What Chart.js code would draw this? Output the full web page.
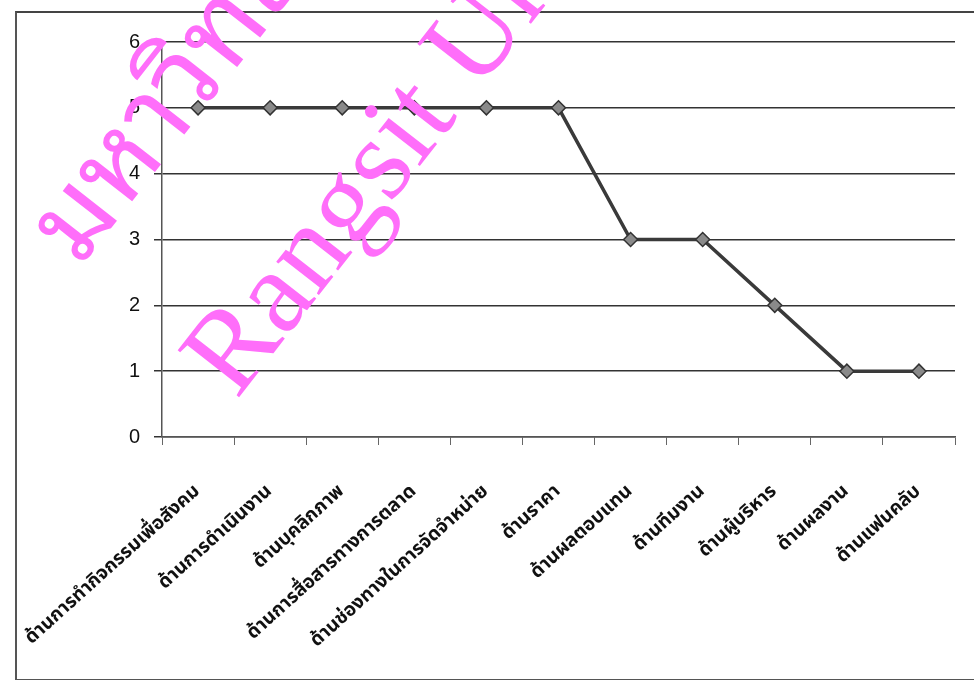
<!DOCTYPE html>
<html>
<head>
<meta charset="utf-8">
<script src="https://cdn.jsdelivr.net/npm/chart.js@4/dist/chart.umd.min.js"></script>
<style>
  html, body { margin: 0; padding: 0; background: #fff; }
  #wrap { position: relative; width: 974px; height: 680px; }
  #frame { position: absolute; left: 15px; top: 11px; width: 980px; height: 666px;
           border-left: 2px solid #555; border-top: 2px solid #444; border-bottom: 2px solid #555; }
  canvas { position: absolute; left: 0; top: 0; }
</style>
</head>
<body>
<div id="wrap">
  <div id="frame"></div>
  <canvas id="c" width="974" height="680"></canvas>
</div>
<script>
// Survey aspects (categories along the x axis)
const categories = [
  'ด้านการทำกิจกรรมเพื่อสังคม',
  'ด้านการดำเนินงาน',
  'ด้านบุคลิกภาพ',
  'ด้านการสื่อสารทางการตลาด',
  'ด้านช่องทางในการจัดจำหน่าย',
  'ด้านราคา',
  'ด้านผลตอบแทน',
  'ด้านทีมงาน',
  'ด้านผู้บริหาร',
  'ด้านผลงาน',
  'ด้านแฟนคลับ'
];
// Score for each aspect
const scores = [5, 5, 5, 5, 5, 5, 3, 3, 2, 1, 1];
// Value axis range
const yMin = 0, yMax = 6, yStep = 1;

// Watermark lines printed across the page
const watermarkLines = ['มหาวิทยาลัยรังสิต', 'Rangsit University'];

const thaiFont = "'Noto Sans Thai', 'Noto Sans', 'DejaVu Sans', sans-serif";

const watermark = {
  id: 'watermark',
  afterDraw(chart) {
    const ctx = chart.ctx;
    ctx.save();
    ctx.fillStyle = 'rgb(255, 110, 250)';
    ctx.textBaseline = 'alphabetic';
    ctx.translate(80, 268);
    ctx.rotate(-52 * Math.PI / 180);
    ctx.font = "110px 'Noto Sans Thai Looped', 'Noto Sans Thai', 'Liberation Serif', serif";
    ctx.fillText(watermarkLines[0], 0, 0);
    ctx.font = "118px 'Liberation Serif', serif";
    ctx.fillText(watermarkLines[1], -8, 205);
    ctx.restore();
  }
};

new Chart(document.getElementById('c'), {
  type: 'line',
  data: {
    labels: categories,
    datasets: [{
      data: scores,
      borderColor: '#3a3a3a',
      borderWidth: 3.5,
      tension: 0,
      pointStyle: 'rectRot',
      pointRadius: 7,
      pointBackgroundColor: '#8a8a8a',
      pointBorderColor: '#333',
      pointBorderWidth: 1.5
    }]
  },
  options: {
    responsive: false,
    animation: false,
    layout: { padding: { left: 0, right: 19, top: 42, bottom: 0 } },
    plugins: { legend: { display: false }, tooltip: { enabled: false } },
    scales: {
      x: {
        offset: true,
        afterFit(scale) { scale.height = 243; scale.paddingLeft = 0; scale.paddingRight = 0; },
        grid: { display: true, drawOnChartArea: false, offset: true, tickLength: 8, color: '#666', lineWidth: 1 },
        border: { display: true, color: '#555', width: 1.5 },
        ticks: {
          minRotation: 42, maxRotation: 42, color: '#111', padding: 36,
          font: { family: thaiFont, size: 19, weight: 'bold' }
        }
      },
      y: {
        min: yMin, max: yMax,
        afterFit(scale) { scale.width = 162; },
        grid: { color: '#333', lineWidth: 1.5, tickLength: 8 },
        border: { display: true, color: '#555', width: 1.5 },
        ticks: { stepSize: yStep, color: '#111', padding: 14, font: { family: "'Liberation Sans', sans-serif", size: 20 } }
      }
    }
  },
  plugins: [watermark]
});
</script>
</body>
</html>
